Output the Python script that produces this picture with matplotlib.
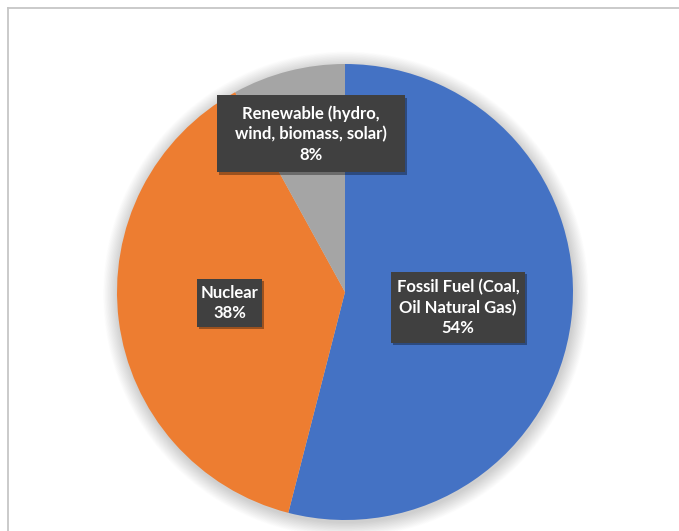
import matplotlib
matplotlib.use("Agg")
import matplotlib.pyplot as plt
from matplotlib.patches import Circle, Rectangle
from matplotlib.lines import Line2D
import matplotlib.patheffects as pe

# Electricity generation mix
categories = ["Fossil Fuel (Coal,\nOil Natural Gas)", "Nuclear", "Renewable (hydro,\nwind, biomass, solar)"]
shares = [54, 38, 8]
colors = ["#4472C4", "#ED7D31", "#A5A5A5"]

# label box centres in pie data units (radius = 1) and box sizes in pixels
label_pos = [(0.496, -0.068), (-0.507, -0.048), (-0.149, 0.693)]
box_px = [(134, 71), (65, 48), (188, 77)]

W, H, DPI = 679, 531, 100
fig = plt.figure(figsize=(W / DPI, H / DPI), dpi=DPI, facecolor="white")

# chart-area frame (left and top edges visible)
fig.add_artist(Line2D([7.5 / W, 7.5 / W], [0, 1 - 7.5 / H], transform=fig.transFigure,
                      color="#c6c6c6", lw=1.3))
fig.add_artist(Line2D([7.5 / W, 1], [1 - 7.5 / H, 1 - 7.5 / H], transform=fig.transFigure,
                      color="#c6c6c6", lw=1.3))

cx, cy, r = 345, 292, 228
lim = 1.12
side = 2 * lim * r
ax = fig.add_axes([(cx - side / 2) / W, (H - cy - side / 2) / H, side / W, side / H])
ax.axis("off")

# soft outer shadow around the pie
n = 24
for i in range(n):
    rad = 1.0 + 0.065 * (i + 1) / n
    ax.add_patch(Circle((0.004, -0.010), rad, facecolor="black", edgecolor="none",
                        alpha=0.0065, zorder=0))

ax.pie(shares, colors=colors, startangle=90, counterclock=False, radius=1.0,
       wedgeprops=dict(linewidth=0, edgecolor="none"))
ax.set_xlim(-lim, lim)
ax.set_ylim(-lim, lim)
ax.set_aspect("equal")

for cat, val, (x, y), (bw, bh) in zip(categories, shares, label_pos, box_px):
    w, h = bw / r, bh / r
    box = Rectangle((x - w / 2, y - h / 2), w, h, facecolor="#404040",
                    edgecolor="none", zorder=4)
    box.set_path_effects([
        pe.withSimplePatchShadow(offset=(1.5, -1.5), shadow_rgbFace="black", alpha=0.35),
    ])
    ax.add_patch(box)
    ax.text(x, y, f"{cat}\n{val}%", ha="center", va="center", fontsize=12,
            family="Lato", fontweight="bold", color="white", linespacing=1.33,
            zorder=5)

fig.savefig("out.png", dpi=DPI, facecolor="white")
